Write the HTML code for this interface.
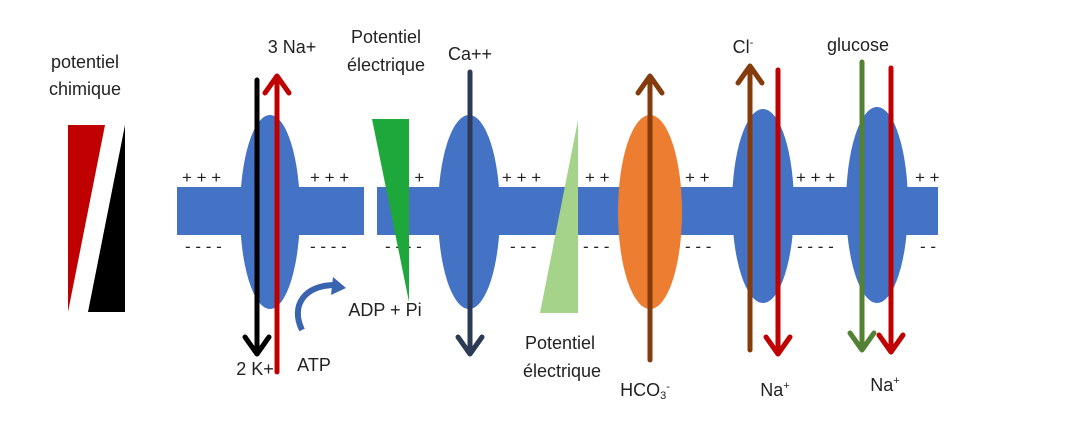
<!DOCTYPE html>
<html><head><meta charset="utf-8"><style>
html,body{margin:0;padding:0;background:#fff;}
svg{display:block;font-family:"Liberation Sans",sans-serif;}
</style></head><body>
<svg width="1066" height="428" viewBox="0 0 1066 428" xmlns="http://www.w3.org/2000/svg">
<text x="85" y="68" font-size="18" text-anchor="middle" fill="#222">potentiel</text>
<text x="85" y="95" font-size="18" text-anchor="middle" fill="#222">chimique</text>
<polygon points="68,125 105,125 68,312" fill="#c00000"/>
<polygon points="125,125 125,312 88,312" fill="#000"/>
<rect x="177" y="187" width="187" height="48" fill="#4472c4"/>
<rect x="377" y="187" width="561" height="48" fill="#4472c4"/>
<g font-size="17" fill="#222">
<text x="182" y="183">+ + +</text><text x="310" y="183">+ + +</text><text x="404" y="183">- +</text>
<text x="502" y="183">+ + +</text><text x="585" y="183">+ +</text><text x="685" y="183">+ +</text>
<text x="796" y="183">+ + +</text><text x="915" y="183">+ +</text>
<text x="185" y="252">- - - -</text><text x="310" y="252">- - - -</text><text x="385" y="252">- - - -</text>
<text x="510" y="252">- - -</text><text x="583" y="252">- - -</text><text x="685" y="252">- - -</text>
<text x="797" y="252">- - - -</text><text x="920" y="252">- -</text>
</g>
<polygon points="372,119 409,119 409,302" fill="#1ea83c"/>
<polygon points="540,313 578,313 578,120" fill="#a6d38a"/>
<ellipse cx="270" cy="212" rx="30" ry="97" fill="#4472c4"/>
<ellipse cx="469" cy="212" rx="31" ry="97" fill="#4472c4"/>
<ellipse cx="650" cy="212" rx="32" ry="97" fill="#ed7d31"/>
<ellipse cx="763" cy="206" rx="31" ry="97" fill="#4472c4"/>
<ellipse cx="877" cy="205" rx="31" ry="98" fill="#4472c4"/>
<g fill="none" stroke-width="5" stroke-linecap="round" stroke-linejoin="round">
<path d="M257 80 V352 M245 337 L257 354 L269 337" stroke="#000"/>
<path d="M277 372 V78 M265 93 L277 76 L289 93" stroke="#c00000"/>
<path d="M470 72 V352 M458 337 L470 354 L482 337" stroke="#2d3a55"/>
<path d="M650 360 V78 M638 93 L650 76 L662 93" stroke="#843c0c"/>
<path d="M750 350 V68 M738 83 L750 66 L762 83" stroke="#843c0c"/>
<path d="M778 70 V352 M766 337 L778 354 L790 337" stroke="#c00000"/>
<path d="M862 62 V348 M850 333 L862 350 L874 333" stroke="#548235"/>
<path d="M891 68 V350 M879 335 L891 352 L903 335" stroke="#c00000"/>
</g>
<path d="M302 330 C290 305 305 285 335 285" fill="none" stroke="#3a64b0" stroke-width="6"/>
<polygon points="333,277 346,288 331,295" fill="#3a64b0"/>
<g font-size="18" fill="#222" text-anchor="middle">
<text x="292" y="53">3 Na+</text>
<text x="386" y="43">Potentiel</text><text x="386" y="71">électrique</text>
<text x="470" y="60">Ca++</text>
<text x="255" y="375">2 K+</text>
<text x="314" y="371">ATP</text>
<text x="385" y="316">ADP + Pi</text>
<text x="560" y="349">Potentiel</text><text x="562" y="377">électrique</text>
<text x="645" y="396">HCO<tspan font-size="11" dy="3">3</tspan><tspan font-size="11" dy="-9">-</tspan></text>
<text x="743" y="53">Cl<tspan font-size="11" dy="-7">-</tspan></text>
<text x="858" y="51">glucose</text>
<text x="775" y="396">Na<tspan font-size="11" dy="-7">+</tspan></text>
<text x="885" y="391">Na<tspan font-size="11" dy="-7">+</tspan></text>
</g>
</svg>
</body></html>
